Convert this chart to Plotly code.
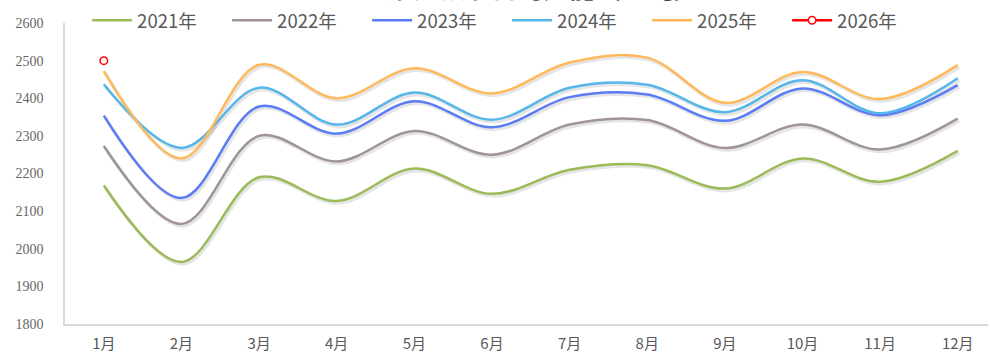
import plotly.graph_objects as go

months = ["1月", "2月", "3月", "4月", "5月", "6月", "7月", "8月", "9月", "10月", "11月", "12月"]

y2021 = [2168, 1965, 2190, 2127, 2213, 2146, 2210, 2222, 2160, 2240, 2178, 2260]
y2022 = [2273, 2066, 2300, 2232, 2313, 2250, 2330, 2342, 2268, 2330, 2264, 2346]
y2023 = [2354, 2135, 2378, 2306, 2392, 2323, 2403, 2410, 2340, 2426, 2355, 2435]
y2024 = [2437, 2268, 2428, 2330, 2415, 2343, 2428, 2436, 2363, 2448, 2360, 2453]
y2025 = [2472, 2240, 2489, 2400, 2480, 2413, 2495, 2508, 2388, 2470, 2398, 2488]
y2026 = [2500]

series = [
    ("2021年", y2021, "#9BBB59"),
    ("2022年", y2022, "#A09494"),
    ("2023年", y2023, "#5B7CF5"),
    ("2024年", y2024, "#56B6EA"),
    ("2025年", y2025, "#FFB95A"),
]

title_text = "2026钢厂铁水日均产能（万吨）"

x_range = [-0.5, 11.39]
y_range = [1800, 2600]
# soft drop shadow: same data on an overlay axis pair nudged right/down
dx, dy = 0.02, 5.5

fig = go.Figure()

# empty trace so the base (visible) axes get drawn
fig.add_trace(go.Scatter(x=months, y=[None] * len(months), mode="lines",
                         showlegend=False, hoverinfo="skip"))

# shadows
for name, vals, color in series:
    fig.add_trace(go.Scatter(
        x=months, y=vals, mode="lines", xaxis="x2", yaxis="y2",
        line=dict(color="rgba(0,0,0,0.10)", width=3.5, shape="spline", smoothing=1.0),
        showlegend=False, hoverinfo="skip"))

# main lines
for name, vals, color in series:
    fig.add_trace(go.Scatter(
        x=months, y=vals, mode="lines", name=name, xaxis="x3", yaxis="y3",
        line=dict(color=color, width=2.5, shape="spline", smoothing=1.0)))

fig.add_trace(go.Scatter(
    x=months[:len(y2026)], y=y2026, mode="lines+markers", name="2026年",
    xaxis="x3", yaxis="y3",
    line=dict(color="#FF0000", width=2.5),
    marker=dict(symbol="circle", size=7.5, color="white",
                line=dict(color="#FF0000", width=1.5))))

tick_font = dict(family="Noto Sans CJK SC", size=15, color="#595959")

fig.update_layout(
    width=990, height=355,
    margin=dict(l=65, r=2, t=23, b=31, autoexpand=False),
    paper_bgcolor="white", plot_bgcolor="white",
    showlegend=True,
    legend=dict(orientation="h", xref="container", yref="container",
                x=0.088, xanchor="left", y=0.995, yanchor="top",
                entrywidth=85, entrywidthmode="pixels",
                font=dict(family="Noto Sans CJK SC", size=18.5, color="#595959"),
                bgcolor="rgba(255,255,255,0)", itemwidth=40),
    xaxis=dict(type="category", categoryarray=months, range=x_range,
               showgrid=False, zeroline=False, showline=True,
               linecolor="#D9D9D9", linewidth=1.5, ticks="",
               tickfont=tick_font, ticklabelstandoff=5),
    yaxis=dict(range=y_range, dtick=100, showgrid=False, zeroline=False,
               showline=True, linecolor="#D9D9D9", linewidth=1.5, ticks="",
               tickfont=dict(family="Liberation Serif", size=14, color="#666666"),
               ticklabelstandoff=17),
    xaxis2=dict(type="category", categoryarray=months, overlaying="x",
                range=[x_range[0] - dx, x_range[1] - dx], visible=False),
    yaxis2=dict(overlaying="y", range=[y_range[0] + dy, y_range[1] + dy],
                visible=False),
    xaxis3=dict(type="category", categoryarray=months, overlaying="x",
                range=x_range, visible=False),
    yaxis3=dict(overlaying="y", range=y_range, visible=False),
    annotations=[dict(text=title_text, xref="paper", yref="paper",
                      x=0.485, y=1, xanchor="center", yanchor="bottom",
                      yshift=16, showarrow=False,
                      font=dict(family="Noto Sans CJK SC", size=26,
                                weight="bold", color="#404040"))],
)

fig.write_html("out.html")
